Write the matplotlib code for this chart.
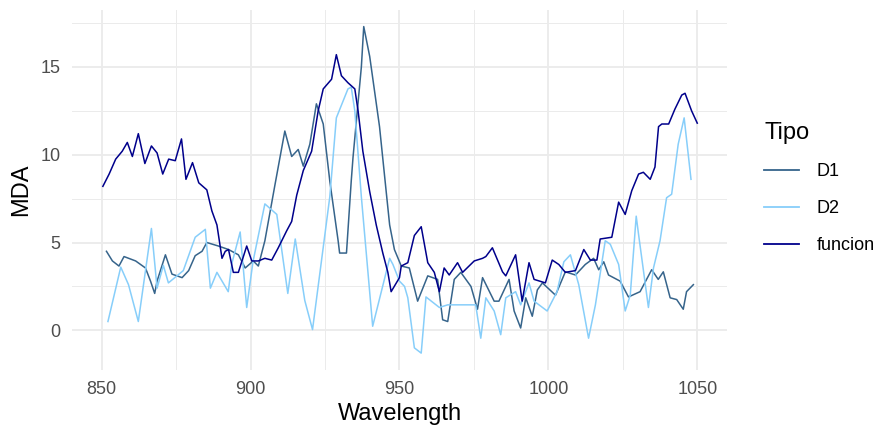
import matplotlib.pyplot as plt
from matplotlib.lines import Line2D

plt.rcParams['font.family'] = ['Liberation Sans', 'DejaVu Sans']

# values (wavelength, MDA)
d1_x = [851.6, 853.6, 855.8, 857.5, 861.4, 864.7, 866.4, 867.8, 868.6, 871.4, 873.6, 877.0, 879.2,
        881.4, 883.7, 885.3, 889.2, 892.6, 895.9, 898.2, 900.9, 902.6, 904.8, 908.2, 911.5, 913.8,
        916.0, 917.7, 919.9, 922.1, 924.4, 926.6, 929.4, 929.9, 932.2, 933.8, 934.4, 937.2, 938.0,
        940.0, 943.3, 945.6, 946.7, 948.3, 950.6, 953.3, 956.1, 959.5, 962.8, 964.5, 966.2, 968.4,
        970.6, 974.0, 976.2, 977.9, 981.8, 983.4, 986.8, 988.5, 990.7, 992.4, 994.6, 996.3, 998.0,
        1002.4, 1005.7, 1009.1, 1012.4, 1015.2, 1016.9, 1018.6, 1020.2, 1024.1, 1026.9, 1030.8,
        1034.7, 1036.9, 1038.6, 1040.9, 1043.1, 1045.3, 1046.4, 1048.7]
d1_y = [4.5, 3.95, 3.66, 4.2, 3.95, 3.55, 2.8, 2.1, 2.8, 4.3, 3.2, 3.0, 3.4,
        4.25, 4.5, 5.0, 4.8, 4.6, 4.3, 3.55, 3.95, 3.66, 5.1, 8.3, 11.35, 9.9,
        10.3, 9.35, 10.6, 12.9, 11.75, 8.5, 5.1, 4.4, 4.4, 8.5, 9.85, 15.0, 17.3,
        15.6, 11.6, 7.8, 6.0, 4.6, 3.66, 3.55, 1.66, 3.1, 2.9, 0.6, 0.5, 2.9,
        3.3, 2.5, 1.2, 3.0, 1.66, 1.66, 2.9, 1.1, 0.13, 1.85, 0.8, 2.3, 2.7,
        2.0, 3.33, 3.15, 3.75, 4.1, 3.45, 3.9, 3.15, 2.8, 1.9, 2.2,
        3.45, 2.9, 3.33, 1.85, 1.75, 1.2, 2.2, 2.6]

d2_x = [852.1, 856.4, 859.0, 862.3, 866.7, 868.6, 870.7, 872.4, 877.4, 881.4, 884.8, 886.5, 888.7,
        892.5, 893.7, 896.5, 898.7, 900.8, 904.8, 908.8, 912.5, 915.0, 918.2, 920.8, 926.6, 928.8,
        932.7, 933.8, 935.0, 937.2, 941.0, 946.7, 947.8, 950.0, 951.7, 952.8, 955.0, 957.3, 958.9,
        963.4, 966.2, 970.6, 975.6, 977.3, 979.0, 981.8, 984.0, 985.7, 989.0, 990.7, 993.5, 995.2,
        999.6, 1002.9, 1005.2, 1007.4, 1010.2, 1013.5, 1015.8, 1019.1, 1020.8, 1023.6, 1025.8,
        1027.5, 1029.5, 1030.3, 1033.6, 1035.3, 1037.5, 1039.7, 1041.4, 1043.6, 1045.6, 1047.9]
d2_y = [0.5, 3.6, 2.6, 0.5, 5.8, 2.4, 3.7, 2.7, 3.4, 5.3, 5.75, 2.4, 3.3,
        2.2, 3.8, 5.6, 1.3, 3.9, 7.2, 6.6, 2.1, 5.2, 1.7, 0.04, 7.6, 12.1,
        13.75, 13.85, 12.5, 7.6, 0.23, 4.1, 3.75, 2.8, 2.5, 1.85, -1.0, -1.3, 1.9,
        1.3, 1.45, 1.45, 1.45, -0.45, 1.85, 1.1, -0.25, 1.85, 2.2, 1.45, 2.7, 1.66,
        1.1, 2.2, 3.9, 4.3, 2.6, -0.45, 1.45, 5.1, 4.9, 3.75, 1.1,
        2.0, 6.5, 5.45, 1.3, 3.55, 5.1, 7.55, 7.75, 10.6, 12.1, 8.6]

fn_x = [850.4, 852.5, 854.7, 856.9, 858.6, 860.3, 862.3, 864.5, 866.7, 868.6, 870.5, 872.5, 874.7,
        876.8, 878.3, 880.5, 882.6, 885.3, 887.0, 888.7, 890.4, 891.5, 892.6, 894.2, 895.9, 898.7,
        900.4, 902.6, 904.8, 907.1, 909.3, 912.1, 913.8, 915.5, 917.7, 920.5, 922.7, 924.4, 927.2,
        928.8, 930.5, 932.7, 935.0, 936.1, 937.7, 940.0, 942.2, 944.4, 946.1, 947.2, 950.0, 950.6,
        952.8, 955.0, 957.3, 959.5, 961.7, 963.4, 965.0, 966.7, 969.5, 971.2, 975.1, 977.9, 979.0,
        981.2, 984.6, 985.7, 989.0, 991.2, 993.5, 995.2, 999.0, 1001.3, 1003.5, 1005.7, 1009.1,
        1011.9, 1014.1, 1016.3, 1017.4, 1021.3, 1023.6, 1025.8, 1028.0, 1030.3, 1031.9, 1034.2,
        1035.8, 1037.0, 1038.1, 1040.4, 1042.5, 1044.8, 1045.9, 1048.1, 1050.0]
fn_y = [8.2, 8.9, 9.75, 10.2, 10.7, 9.9, 11.2, 9.5, 10.5, 10.1, 8.9, 9.75, 9.66,
        10.9, 8.6, 9.55, 8.4, 8.0, 6.8, 6.0, 4.1, 4.5, 4.6, 3.3, 3.3, 4.8,
        3.95, 3.95, 4.1, 4.0, 4.7, 5.66, 6.2, 7.7, 9.1, 10.2, 12.5, 13.75, 14.3,
        15.7, 14.5, 14.1, 13.75, 12.5, 10.2, 7.9, 6.0, 4.4, 3.3, 2.2, 3.0, 3.66,
        3.85, 5.4, 5.9, 3.85, 3.3, 2.2, 3.55, 3.15, 3.85, 3.3, 3.95, 4.1, 4.2,
        4.7, 3.33, 3.1, 4.3, 1.66, 3.85, 2.9, 2.7, 4.0, 3.75, 3.3, 3.4,
        4.6, 4.0, 4.0, 5.2, 5.3, 7.3, 6.6, 7.95, 8.9, 9.0, 8.6,
        9.3, 11.6, 11.75, 11.75, 12.6, 13.4, 13.5, 12.5, 11.8]

tipos = ['D1', 'D2', 'funcion']
colores = ['#36648B', '#87CEFA', '#00008B']

fig = plt.figure(figsize=(8.77, 4.30), dpi=100)
ax = fig.add_axes([0.082, 0.14, 0.747, 0.837])

series = [(d1_x, d1_y), (d2_x, d2_y), (fn_x, fn_y)]
for (xs, ys), col, name in zip(series, colores, tipos):
    ax.plot(xs, ys, color=col, lw=1.1, label=name, zorder=3)

ax.set_xlim(840, 1060)
ax.set_ylim(-2.25, 18.25)
ax.set_xticks([850, 900, 950, 1000, 1050])
ax.set_xticks([875, 925, 975, 1025], minor=True)
ax.set_yticks([0, 5, 10, 15])
ax.set_yticks([2.5, 7.5, 12.5, 17.5], minor=True)

ax.grid(True, which='major', color='#EBEBEB', lw=1.3)
ax.grid(True, which='minor', color='#EBEBEB', lw=0.7)
ax.set_axisbelow(True)
for s in ax.spines.values():
    s.set_visible(False)
ax.tick_params(which='both', length=0, labelsize=13, labelcolor='#4D4D4D', pad=8)

ax.set_xlabel('Wavelength', fontsize=17, color='black', labelpad=4)
ax.set_ylabel('MDA', fontsize=17, color='black', labelpad=6)

handles = [Line2D([], [], color=c, lw=1.3) for c in colores]
leg = fig.legend(handles, tipos, title='Tipo', loc='upper left',
                 bbox_to_anchor=(0.853, 0.755), frameon=False,
                 fontsize=13, title_fontsize=17, handlelength=1.9,
                 handletextpad=1.0, labelspacing=1.1)
leg._legend_box.align = 'left'

fig.savefig('out.png', dpi=100)
